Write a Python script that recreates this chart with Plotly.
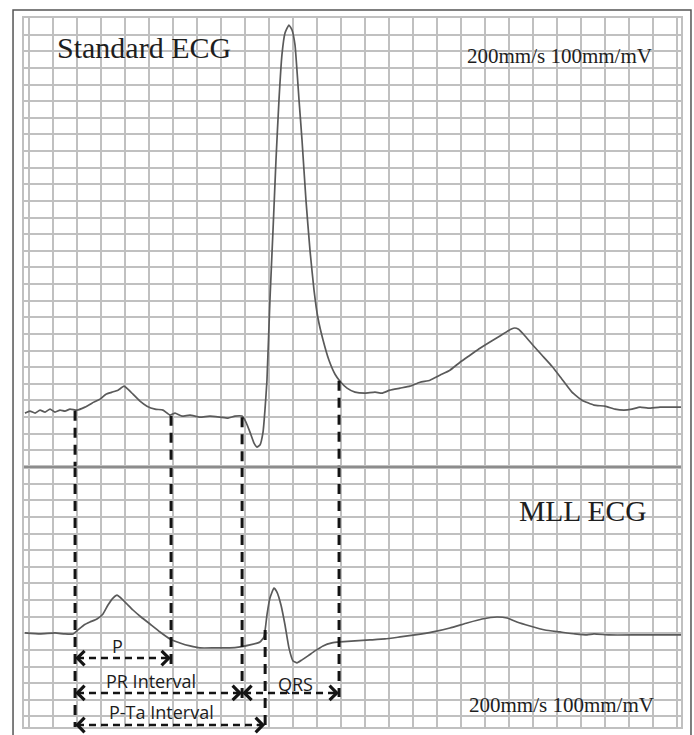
import numpy as np
import plotly.graph_objects as go

# ---------------- data ----------------
# Standard ECG (upper strip): time in ms, amplitude in mV (200 mm/s, 100 mm/mV)
std_t = [-4.2, 1.0, 6.3, 11.5, 16.7, 21.9, 27.1, 32.3, 37.5, 42.7, 50.0, 58.3, 65.6, 74.0,
         80.2, 86.5, 92.7, 99.0, 103.1, 108.3, 115.6, 122.9, 131.3, 139.6, 146.9, 152.1,
         159.4, 167.7, 178.1, 188.5, 199.0, 207.3, 214.6, 221.9, 226.0, 230.2, 234.4, 237.5,
         240.6, 243.8, 245.8, 247.9, 251.0, 254.2, 257.3, 260.4, 263.5, 266.7, 270.8, 274.0,
         277.1, 281.3, 284.4, 288.5, 292.7, 296.9, 301.0, 306.3, 312.5, 318.8, 324.0, 331.3,
         339.6, 350.0, 360.4, 367.7, 376.0, 386.5, 396.9, 407.3, 417.7, 428.1, 438.5, 449.0,
         459.4, 469.8, 480.2, 490.6, 497.9, 502.0, 506.0, 510.0, 516.7, 525.0, 534.4, 544.8,
         555.2, 565.6, 576.0, 588.5, 600.0, 610.4, 619.8, 628.1, 636.5, 644.8, 657.3, 679.2]
std_v = [0.012, 0.018, 0.012, 0.021, 0.015, 0.024, 0.015, 0.021, 0.018, 0.024, 0.021, 0.030,
         0.042, 0.054, 0.069, 0.075, 0.081, 0.093, 0.084, 0.069, 0.048, 0.033, 0.024, 0.021,
         0.006, 0.012, 0.003, 0.006, 0.000, 0.003, 0.000, -0.003, 0.003, 0.003, -0.015,
         -0.045, -0.078, -0.090, -0.084, -0.045, 0.021, 0.111, 0.352, 0.562, 0.773, 0.953,
         1.089, 1.155, 1.179, 1.164, 1.119, 0.953, 0.833, 0.653, 0.502, 0.382, 0.298, 0.232,
         0.171, 0.129, 0.108, 0.087, 0.075, 0.072, 0.075, 0.072, 0.081, 0.087, 0.093, 0.105,
         0.111, 0.126, 0.141, 0.165, 0.186, 0.207, 0.226, 0.244, 0.257, 0.264, 0.268, 0.264,
         0.244, 0.216, 0.186, 0.153, 0.114, 0.075, 0.051, 0.036, 0.033, 0.024, 0.021, 0.024,
         0.030, 0.027, 0.030, 0.030]

# MLL ECG (lower strip): time in ms, amplitude in mV
mll_t = [-4.2, 11.5, 27.1, 37.5, 45.8, 51.0, 57.3, 63.5, 70.8, 77.1, 82.3, 87.5, 91.7, 95.8,
         102.1, 108.3, 116.7, 126.0, 136.5, 146.9, 157.3, 167.7, 178.1, 193.8, 209.4, 219.8,
         230.2, 240.6, 244.8, 247.9, 251.0, 255.2, 258.3, 262.5, 266.7, 270.8, 275.0, 279.2,
         284.4, 290.6, 297.9, 306.3, 315.6, 324.0, 339.6, 355.2, 370.8, 386.5, 402.1, 420.8,
         438.5, 456.3, 471.9, 487.5, 497.9, 508.3, 521.9, 537.5, 553.1, 568.8, 581.3, 588.5,
         604.2, 635.4, 679.2]
mll_v = [0.001, -0.002, 0.001, -0.002, -0.002, 0.010, 0.025, 0.034, 0.043, 0.058, 0.085,
         0.106, 0.115, 0.106, 0.088, 0.070, 0.049, 0.028, 0.004, -0.017, -0.029, -0.038,
         -0.044, -0.044, -0.044, -0.041, -0.035, -0.026, -0.011, 0.055, 0.106, 0.136, 0.124,
         0.085, 0.025, -0.044, -0.083, -0.089, -0.080, -0.068, -0.053, -0.038, -0.029,
         -0.026, -0.023, -0.020, -0.017, -0.011, -0.005, 0.004, 0.016, 0.031, 0.043, 0.049,
         0.046, 0.034, 0.022, 0.010, 0.004, -0.002, -0.005, -0.002, -0.005, -0.005, -0.005]

# interval boundaries (ms)
p_onset = 48
p_offset = 148
qrs_onset = 222
ta_offset = 246
qrs_offset = 323

interval_names = ["P", "PR Interval", "QRS", "P-Ta Interval"]
interval_start = [p_onset, p_onset, qrs_onset, p_onset]
interval_end = [p_offset, qrs_onset, qrs_offset, ta_offset]

speed_label = "200mm/s 100mm/mV"

# ---------------- layout constants ----------------
X_RANGE = [-5.2, 679.2]
Y1_RANGE = [-0.15, 1.2]
Y2_RANGE = [-0.2818, 0.5]
split = 260 / 709

# arrow rows in lower-panel domain fraction
arrow_rows = [0.265, 0.131, 0.131, 0.0077]
label_yshift = [12, 12, 9, 13]
label_xshift = [-6, -8, 5, -9]
# where each vertical guide ends in the lower panel (domain fraction)
guide_end = {p_onset: 0.0, p_offset: 0.231, qrs_onset: 0.104, qrs_offset: 0.115}

grid_col = "#c0c0c0"
trace_col = "#5a5a5a"
dash_col = "#141414"

fig = go.Figure()
fig.add_trace(go.Scatter(x=std_t, y=std_v, xaxis="x", yaxis="y", mode="lines",
                         line=dict(color=trace_col, width=1.7, shape="spline", smoothing=0.4),
                         hoverinfo="skip", showlegend=False))
fig.add_trace(go.Scatter(x=mll_t, y=mll_v, xaxis="x2", yaxis="y2", mode="lines",
                         line=dict(color=trace_col, width=1.7, shape="spline", smoothing=0.4),
                         hoverinfo="skip", showlegend=False))

shapes = []
annotations = []

# vertical dashed guides from the standard ECG down into the MLL strip
for tb in [p_onset, p_offset, qrs_onset, qrs_offset]:
    y_start = float(np.interp(tb, std_t, std_v))
    shapes.append(dict(type="line", xref="x", yref="y", x0=tb, x1=tb,
                       y0=y_start - 0.003, y1=Y1_RANGE[0],
                       line=dict(color=dash_col, width=3, dash="10px,7px")))
    shapes.append(dict(type="line", xref="x2", yref="y2 domain", x0=tb, x1=tb,
                       y0=1, y1=guide_end[tb],
                       line=dict(color=dash_col, width=3, dash="10px,7px")))
# Ta end guide (only in MLL strip)
y_ta = float(np.interp(ta_offset, mll_t, mll_v))
shapes.append(dict(type="line", xref="x2", yref="y2", x0=ta_offset, x1=ta_offset,
                   y0=y_ta - 0.005, y1=Y2_RANGE[0],
                   line=dict(color=dash_col, width=3, dash="10px,7px")))

# horizontal double arrows with labels
for name, s, e, row, ys, xs in zip(interval_names, interval_start, interval_end,
                                   arrow_rows, label_yshift, label_xshift):
    shapes.append(dict(type="line", xref="x2", yref="y2 domain", x0=s + 2, x1=e - 2,
                       y0=row, y1=row,
                       line=dict(color=dash_col, width=2.5, dash="7px,5px")))
    for tip, tail in [(s, 10), (e, -10)]:
        annotations.append(dict(x=tip, y=row, xref="x2", yref="y2 domain", text="",
                                showarrow=True, arrowhead=4, arrowsize=1.4, arrowwidth=2,
                                arrowcolor=dash_col, ax=tail, ay=0, standoff=0))
    annotations.append(dict(x=(s + e) / 2, y=row, xref="x2", yref="y2 domain", text=name,
                            showarrow=False, yshift=ys, xshift=xs, yanchor="middle",
                            font=dict(family="Open Sans", size=18, color="#1c1c1c")))

# separator between strips
shapes.append(dict(type="line", xref="x domain", yref="y2 domain", x0=0, x1=1, y0=1, y1=1,
                   line=dict(color="#8c8c8c", width=2)))
# outer frame
shapes.append(dict(type="rect", xref="paper", yref="paper", x0=-0.0167, x1=1.0152,
                   y0=-0.05, y1=1.0113, line=dict(color="#555555", width=1.5)))

serif = "Liberation Serif"
annotations += [
    dict(x=0.0472, y=0.959, xref="paper", yref="paper", text="Standard ECG",
         showarrow=False, xanchor="left", yanchor="middle",
         font=dict(family=serif, size=30, color="#1e1e1e")),
    dict(x=0.671, y=0.946, xref="paper", yref="paper", text=speed_label,
         showarrow=False, xanchor="left", yanchor="middle",
         font=dict(family=serif, size=21, color="#1e1e1e")),
    dict(x=0.750, y=0.3047, xref="paper", yref="paper", text="MLL ECG",
         showarrow=False, xanchor="left", yanchor="middle",
         font=dict(family=serif, size=29.5, color="#1e1e1e")),
    dict(x=0.674, y=0.031, xref="paper", yref="paper", text=speed_label,
         showarrow=False, xanchor="left", yanchor="middle",
         font=dict(family=serif, size=21, color="#1e1e1e")),
]

axis_common = dict(showgrid=True, gridcolor=grid_col, gridwidth=1.6, zeroline=False,
                   showticklabels=False, ticks="", showline=True, mirror=True,
                   linecolor=grid_col, linewidth=1.5, fixedrange=True)

fig.update_layout(
    width=694, height=735,
    margin=dict(l=24, r=13, t=18, b=8),
    paper_bgcolor="white", plot_bgcolor="white",
    xaxis=dict(domain=[0, 1], anchor="y", range=X_RANGE, tick0=0, dtick=25, **axis_common),
    xaxis2=dict(domain=[0, 1], anchor="y2", range=X_RANGE, tick0=0, dtick=25,
                matches="x", **axis_common),
    yaxis=dict(domain=[split, 1], anchor="x", range=Y1_RANGE, tick0=0, dtick=0.05, **axis_common),
    yaxis2=dict(domain=[0, split], anchor="x2", range=Y2_RANGE, tick0=0, dtick=0.05, **axis_common),
    shapes=shapes,
    annotations=annotations,
    showlegend=False,
)

fig.write_html("out.html", config={"displayModeBar": False},
               post_script="document.body.style.margin='0';document.body.style.overflow='hidden';")
